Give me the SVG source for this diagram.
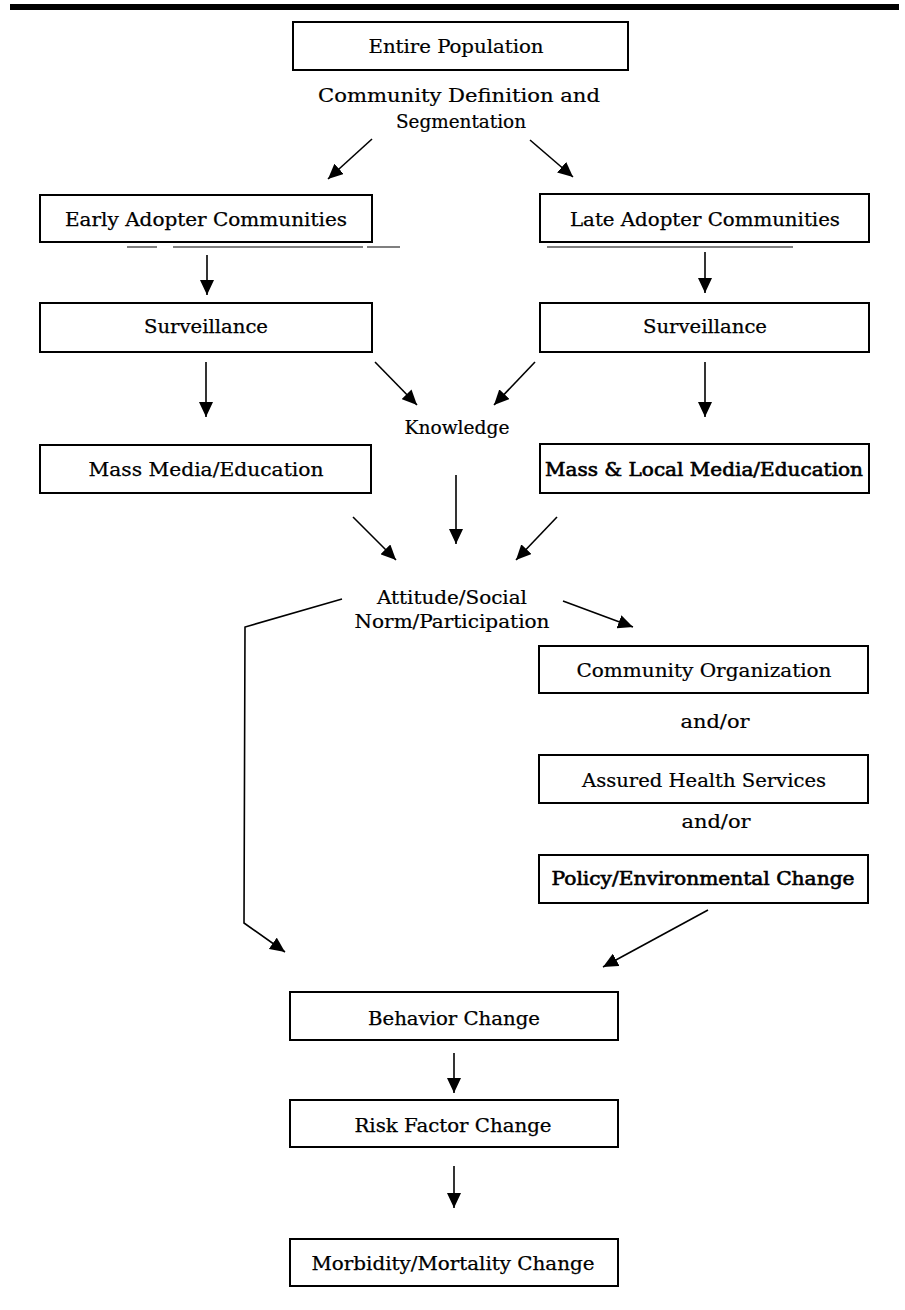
<svg xmlns="http://www.w3.org/2000/svg" width="905" height="1310" viewBox="0 0 905 1310">
<style>
.box{fill:#fff;stroke:#000;stroke-width:2}
.t{font-family:"DejaVu Serif","Liberation Serif",serif;font-size:18px;fill:#000;text-anchor:middle;stroke:#000;stroke-width:0.25}
.c{font-family:"DejaVu Serif","Liberation Serif",serif;font-stretch:condensed;font-size:19px;fill:#000;text-anchor:middle;stroke:#000;stroke-width:0.2}
.heavy{stroke:#000;stroke-width:0.6}
.ln{fill:none;stroke:#000;stroke-width:1.6}
.ul{fill:none;stroke:#000;stroke-width:1.2}
</style>
<defs>
<marker id="ah" markerUnits="userSpaceOnUse" markerWidth="16" markerHeight="14" refX="15" refY="7" orient="auto">
<path d="M0,0 L15,7 L0,14 z" fill="#000"/>
</marker>
</defs>
<rect x="10" y="4" width="889" height="6" fill="#000"/>
<g id="entire-population">
<rect class="box" x="293" y="22" width="335" height="48"/>
<text class="c" x="456" y="53" textLength="175" lengthAdjust="spacingAndGlyphs">Entire Population</text>
</g>
<g id="segmentation-label">
<text class="c" x="459" y="102" textLength="282" lengthAdjust="spacingAndGlyphs">Community Definition and</text>
<text class="c" x="461" y="128" textLength="130" lengthAdjust="spacingAndGlyphs">Segmentation</text>
</g>
<g id="early-adopter">
<rect class="box" x="40" y="195" width="332" height="47"/>
<text class="t" x="206" y="226" textLength="282" lengthAdjust="spacingAndGlyphs">Early Adopter Communities</text>
</g>
<g id="late-adopter">
<rect class="box" x="540" y="194" width="329" height="48"/>
<text class="t" x="705" y="226" textLength="270" lengthAdjust="spacingAndGlyphs">Late Adopter Communities</text>
</g>
<g id="surveillance-early">
<rect class="box" x="40" y="303" width="332" height="49"/>
<text class="t" x="206" y="333" textLength="124" lengthAdjust="spacingAndGlyphs">Surveillance</text>
</g>
<g id="surveillance-late">
<rect class="box" x="540" y="303" width="329" height="49"/>
<text class="t" x="705" y="333" textLength="124" lengthAdjust="spacingAndGlyphs">Surveillance</text>
</g>
<g id="knowledge">
<text class="c" x="457" y="434" textLength="105" lengthAdjust="spacingAndGlyphs">Knowledge</text>
</g>
<g id="mass-media">
<rect class="box" x="40" y="445" width="331" height="48"/>
<text class="t" x="206" y="476" textLength="235" lengthAdjust="spacingAndGlyphs">Mass Media/Education</text>
</g>
<g id="mass-local-media">
<rect class="box" x="540" y="444" width="329" height="49"/>
<text class="t heavy" x="704" y="476" textLength="318" lengthAdjust="spacingAndGlyphs">Mass &amp; Local Media/Education</text>
</g>
<g id="attitude">
<text class="c" x="452" y="604" textLength="150" lengthAdjust="spacingAndGlyphs">Attitude/Social</text>
<text class="c" x="452" y="628" textLength="195" lengthAdjust="spacingAndGlyphs">Norm/Participation</text>
</g>
<g id="community-organization">
<rect class="box" x="539" y="646" width="329" height="47"/>
<text class="c" x="704" y="677" textLength="255" lengthAdjust="spacingAndGlyphs">Community Organization</text>
</g>
<g id="andor-1">
<text class="c" x="715" y="728" textLength="69" lengthAdjust="spacingAndGlyphs">and/or</text>
</g>
<g id="assured-health">
<rect class="box" x="539" y="755" width="329" height="48"/>
<text class="c" x="704" y="787" textLength="244" lengthAdjust="spacingAndGlyphs">Assured Health Services</text>
</g>
<g id="andor-2">
<text class="c" x="716" y="828" textLength="69" lengthAdjust="spacingAndGlyphs">and/or</text>
</g>
<g id="policy">
<rect class="box" x="539" y="855" width="329" height="48"/>
<text class="t heavy" x="703" y="885" textLength="303" lengthAdjust="spacingAndGlyphs">Policy/Environmental Change</text>
</g>
<g id="behavior">
<rect class="box" x="290" y="992" width="328" height="48"/>
<text class="t" x="454" y="1025" textLength="172" lengthAdjust="spacingAndGlyphs">Behavior Change</text>
</g>
<g id="risk-factor">
<rect class="box" x="290" y="1100" width="328" height="47"/>
<text class="t" x="453" y="1132" textLength="197" lengthAdjust="spacingAndGlyphs">Risk Factor Change</text>
</g>
<g id="morbidity">
<rect class="box" x="290" y="1239" width="328" height="47"/>
<text class="t" x="453" y="1270" textLength="283" lengthAdjust="spacingAndGlyphs">Morbidity/Mortality Change</text>
</g>
<g id="connectors">
<line class="ln" x1="372" y1="139" x2="328" y2="179" marker-end="url(#ah)"/>
<line class="ln" x1="530" y1="140" x2="573" y2="177" marker-end="url(#ah)"/>
<path class="ul" d="M127,247 H157 M173,247 H363 M367,247 H400"/>
<path class="ul" d="M547,247 H793"/>
<line class="ln" x1="207" y1="255" x2="207" y2="295" marker-end="url(#ah)"/>
<line class="ln" x1="705" y1="252" x2="705" y2="293" marker-end="url(#ah)"/>
<line class="ln" x1="206" y1="362" x2="206" y2="417" marker-end="url(#ah)"/>
<line class="ln" x1="375" y1="362" x2="417" y2="405" marker-end="url(#ah)"/>
<line class="ln" x1="535" y1="362" x2="494" y2="405" marker-end="url(#ah)"/>
<line class="ln" x1="705" y1="362" x2="705" y2="417" marker-end="url(#ah)"/>
<line class="ln" x1="456" y1="475" x2="456" y2="544" marker-end="url(#ah)"/>
<line class="ln" x1="353" y1="517" x2="396" y2="560" marker-end="url(#ah)"/>
<line class="ln" x1="557" y1="517" x2="516" y2="560" marker-end="url(#ah)"/>
<line class="ln" x1="563" y1="601" x2="633" y2="627" marker-end="url(#ah)"/>
<polyline class="ln" points="342,599 245,627 244,923 285,952" marker-end="url(#ah)"/>
<line class="ln" x1="708" y1="910" x2="603" y2="967" marker-end="url(#ah)"/>
<line class="ln" x1="454" y1="1053" x2="454" y2="1093" marker-end="url(#ah)"/>
<line class="ln" x1="454" y1="1166" x2="454" y2="1208" marker-end="url(#ah)"/>
</g>
</svg>
